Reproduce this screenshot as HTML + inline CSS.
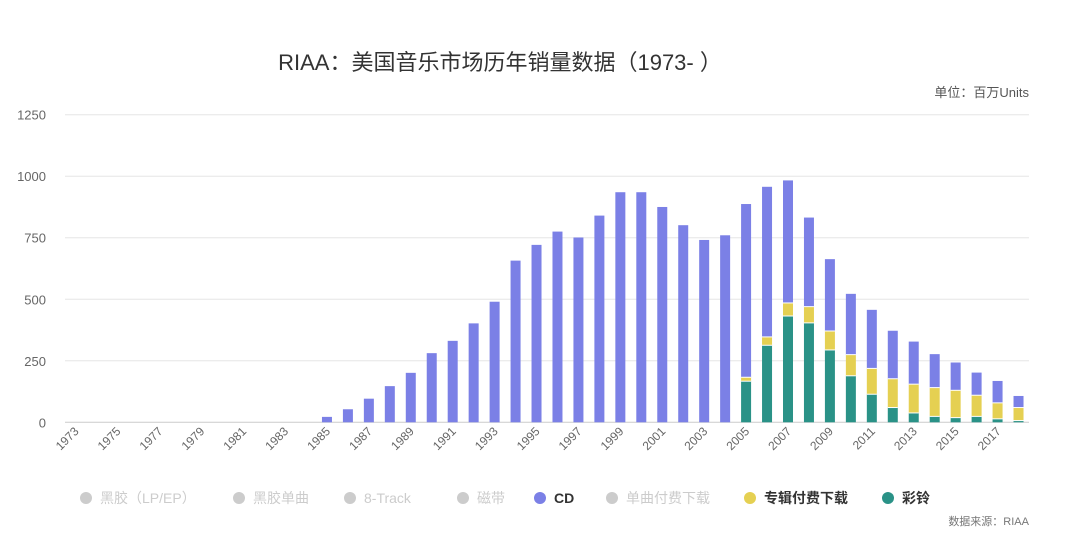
<!DOCTYPE html>
<html><head><meta charset="utf-8">
<style>
body{margin:0;background:#fff;}
svg{display:block;font-family:"Liberation Sans","Noto Sans CJK SC",sans-serif;}
</style></head>
<body>
<svg id="chart" width="1080" height="557" xmlns="http://www.w3.org/2000/svg">
<text x="500" y="70" text-anchor="middle" font-size="22" fill="#333">RIAA：美国音乐市场历年销量数据（1973- ）</text>
<text x="1029" y="97" text-anchor="end" font-size="13" fill="#555">单位：百万Units</text>
<text x="1029" y="525" text-anchor="end" font-size="11" fill="#777">数据来源：RIAA</text>
<g id="grid"></g>
<g id="bars"></g>
<g id="xaxis"></g>
<g id="legend"></g>
</svg>
<script>
const years = [];
for (let y = 1973; y <= 2018; y++) years.push(y);
const cdValues = [0,0,0,0,0,0,0,0,0,0,0,0,22,53,96,147,201,281,331,402,490,657,721,775,751,840,935,935,875,801,741,760,704,610,498,362,292,247,238,195,173,136,113,92,89,47];
const albumDownloadValues = [0,0,0,0,0,0,0,0,0,0,0,0,0,0,0,0,0,0,0,0,0,0,0,0,0,0,0,0,0,0,0,0,16,34,53,66,77,86,105,117,117,117,111,86,65,53];
const ringtoneValues = [0,0,0,0,0,0,0,0,0,0,0,0,0,0,0,0,0,0,0,0,0,0,0,0,0,0,0,0,0,0,0,0,167,313,432,404,294,189,114,60,38,24,19,24,14,7];
const yTicks = [0,250,500,750,1000,1250];
const legendLabels = ["黑胶（LP/EP）","黑胶单曲","8-Track","磁带","CD","单曲付费下载","专辑付费下载","彩铃"];
const legendColors = ["#ccc","#ccc","#ccc","#ccc","#7b80e6","#ccc","#e5d052","#2a9287"];
const legendActive = [false,false,false,false,true,false,true,true];
const legendX = [86,239,350,463,540,612,750,888];

const NS = "http://www.w3.org/2000/svg";
const left = 65, right = 1029, y0 = 422.3, yTop = 114.7, yMax = 1250;
const step = (right - left) / years.length;
const xC = i => left + step * (i + 0.5);
const yS = v => y0 - (v / yMax) * (y0 - yTop);
function mk(tag, attrs, parent){const e=document.createElementNS(NS,tag);for(const k in attrs)e.setAttribute(k,attrs[k]);parent.appendChild(e);return e;}

const grid = document.getElementById('grid');
yTicks.forEach(t=>{
  const l = mk('line',{x1:left,x2:right,y1:yS(t),y2:yS(t),stroke:t===0?'#ccc':'#e6e6e6','stroke-width':1},grid);
  
  
  const tx = mk('text',{x:46,y:yS(t)+5,'text-anchor':'end','font-size':13,fill:'#666'},grid);
  tx.textContent = t;
  
  
});

const bars = document.getElementById('bars');
const bw = 10;
years.forEach((yr,i)=>{
  let base = 0;
  [[ringtoneValues,'#2a9287'],[albumDownloadValues,'#e5d052'],[cdValues,'#7b80e6']].forEach(([arr,col])=>{
    const v = arr[i];
    if (v > 0) {
      const r = mk('rect',{x:xC(i)-bw/2,y:yS(base+v),width:bw,height:yS(base)-yS(base+v),fill:col},bars);
      
      
      if (base > 0) mk('line',{x1:xC(i)-bw/2,x2:xC(i)+bw/2,y1:yS(base),y2:yS(base),stroke:'#fff','stroke-width':1},bars);
    }
    base += v;
  });
});

const xa = document.getElementById('xaxis');
years.forEach((yr,i)=>{
  if (i % 2 === 0) {
    const t = mk('text',{x:xC(i)+4,y:432,'text-anchor':'end','font-size':12,fill:'#666',transform:`rotate(-45 ${xC(i)+4} 432)`},xa);
    t.textContent = yr;
    
    
  }
});

const lg = document.getElementById('legend');
legendLabels.forEach((lab,i)=>{
  const g = mk('g',{},lg);
  
  
  mk('circle',{cx:legendX[i],cy:498,r:6,fill:legendColors[i]},g);
  const t = mk('text',{x:legendX[i]+14,y:503,'font-size':14,fill:legendActive[i]?'#333':'#ccc','font-weight':legendActive[i]?'bold':'normal'},g);
  t.textContent = lab;
});
</script>
</body></html>
